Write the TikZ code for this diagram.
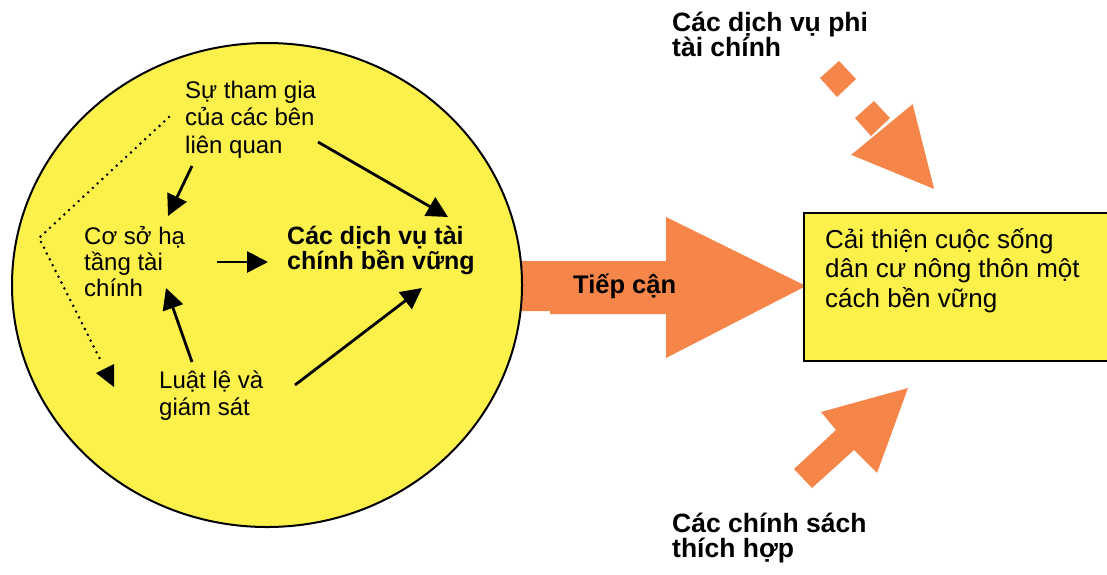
\documentclass[tikz,border=0pt]{standalone}
\usepackage{fontspec}
\setmainfont{Liberation Sans}
\usetikzlibrary{arrows.meta}
\definecolor{sunyellow}{HTML}{FCF04B}
\definecolor{accessorange}{HTML}{F58549}

\begin{document}
\begin{tikzpicture}[x=1pt, y=-1pt,
        txt/.style={align=left, inner sep=0pt, anchor=base west},
        arr/.style={-{Triangle[length=21pt, width=21pt]}, line width=2.8pt},
        dotline/.style={line width=2.8pt, line cap=round, dash pattern=on 0pt off 6.5pt}
    ]
        \useasboundingbox (0,0) rectangle (1107,574);
        % big arrow "Tiep can"
        \fill[accessorange] (512,261) -- (666,261) -- (666,217) -- (806,286)
            -- (666,358) -- (666,314) -- (550,314) -- (550,311) -- (512,311) -- cycle;
        % outcome box
        \draw[fill=sunyellow, line width=2.5pt] (804,213) rectangle (1114,361);
        % circle of financial services
        \draw[fill=sunyellow, line width=2pt] (267,285) ellipse [x radius=255, y radius=242];
        % non-financial services arrow
        \fill[accessorange] (820,78) -- (839,61) -- (856,79) -- (837,97) -- cycle;
        \fill[accessorange] (855,118) -- (874,101) -- (890,118) -- (871,136) -- cycle;
        \filldraw[accessorange, draw=white, line width=1pt] (913,103) -- (850,155) -- (935,190) -- cycle;
        % policy arrow
        \fill[accessorange] (908,388) -- (821,412) -- (836,430) -- (794,469)
            -- (812,488) -- (854,450) -- (877,473) -- cycle;

        \node[txt, font=\fontsize{24}{27.5}\selectfont] (Stakeholders) at (185,153) {
            Sự tham gia\\của các bên\\liên quan
        };
        \node[txt, font=\fontsize{24}{26}\selectfont] (Infrastructure) at (84,296) {
            Cơ sở hạ\\tầng tài\\chính
        };
        \node[txt, font=\fontsize{25}{25.5}\selectfont\bfseries] (Services) at (287,269.5) {
            Các dịch vụ tài\\chính bền vững
        };
        \node[txt, font=\fontsize{24}{27}\selectfont] (Regulation) at (159,415) {
            Luật lệ và\\giám sát
        };
        \node[txt, font=\fontsize{25.5}{28}\selectfont\bfseries] (Access) at (573,293) {
            Tiếp cận
        };
        \node[txt, font=\fontsize{26}{29.5}\selectfont] (Livelihood) at (825,307) {
            Cải thiện cuộc sống\\dân cư nông thôn một\\cách bền vững
        };
        \node[txt, font=\fontsize{26.5}{25}\selectfont\bfseries] (NonFinancial) at (672,56) {
            Các dịch vụ phi\\tài chính
        };
        \node[txt, font=\fontsize{26.5}{25}\selectfont\bfseries] (Policies) at (672,557) {
            Các chính sách\\thích hợp
        };

        \draw[arr] ([shift={(133,-11)}]Stakeholders.base west) -- ([shift={(161,-52.5)}]Services.base west);
        \draw[arr] ([shift={(7,13)}]Stakeholders.base west) -- ([shift={(84,-80)}]Infrastructure.base west);
        \draw[arr] ([shift={(133,-34)}]Infrastructure.base west) -- ([shift={(-19,-7.5)}]Services.base west);
        \draw[arr] ([shift={(33,-53)}]Regulation.base west) -- ([shift={(82,-8)}]Infrastructure.base west);
        \draw[arr] ([shift={(136,-30)}]Regulation.base west) -- ([shift={(135,18.5)}]Services.base west);

        % feedback from stakeholders
        \coordinate (FeedbackEnd) at (102,363);
        \draw[dotline] ([shift={(-16,-36)}]Stakeholders.base west) -- (39,238) -- (FeedbackEnd);
        \fill (96,373) -- (114,364) -- (114,387) -- cycle;
    \end{tikzpicture}
\end{document}
